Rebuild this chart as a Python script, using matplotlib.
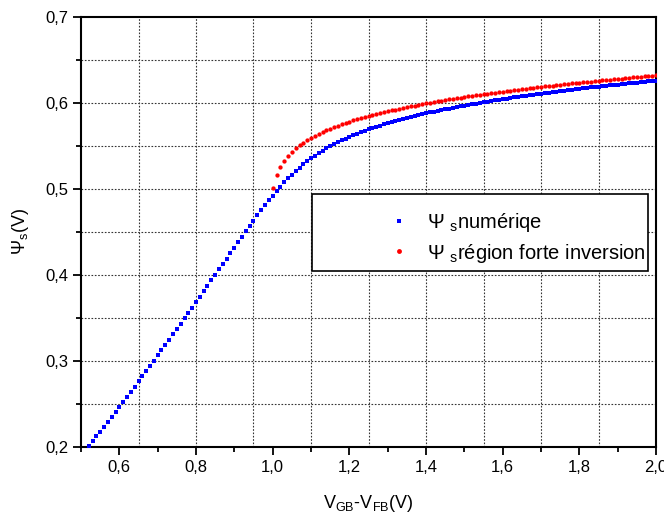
import numpy as np
import matplotlib
matplotlib.use("Agg")
import matplotlib.pyplot as plt
from matplotlib.ticker import MultipleLocator, FuncFormatter
from matplotlib.patches import Rectangle
from matplotlib.lines import Line2D

plt.rcParams['font.family'] = ['Liberation Sans', 'DejaVu Sans']
plt.rcParams['mathtext.fontset'] = 'custom'
plt.rcParams['mathtext.rm'] = 'Liberation Sans'
plt.rcParams['mathtext.it'] = 'Liberation Sans'

# ---- data ----
# V_GB - V_FB sampling: 0.52 .. 2.00 step 0.01 (numerical), 1.00 .. 2.00 step 0.01 (strong inversion)
v_num = np.round(np.linspace(0.52, 2.00, 149), 2)
psi_num = np.array([
    2011, 2067, 2124, 2180, 2237, 2294, 2352, 2410, 2468, 2526,
    2585, 2644, 2703, 2763, 2823, 2883, 2943, 3003, 3064, 3125,
    3186, 3248, 3310, 3371, 3433, 3496, 3558, 3621, 3684, 3747,
    3810, 3873, 3937, 4000, 4064, 4128, 4191, 4255, 4318, 4382,
    4445, 4508, 4570, 4631, 4692, 4752, 4810, 4867, 4922, 4976,
    5027, 5076, 5123, 5167, 5210, 5249, 5287, 5322, 5356,
    5387, 5417, 5445, 5472, 5497, 5521, 5543, 5565, 5586, 5605,
    5624, 5642, 5660, 5676, 5692, 5708, 5723, 5737, 5751, 5765,
    5778, 5790, 5803, 5815, 5826, 5837, 5848, 5859, 5870, 5880,
    5890, 5900, 5909, 5918, 5927, 5936, 5945, 5954, 5962, 5970,
    5978, 5986, 5994, 6002, 6009, 6017, 6024, 6031, 6038, 6045,
    6052, 6059, 6065, 6072, 6078, 6085, 6091, 6097, 6103, 6109,
    6115, 6121, 6127, 6132, 6138, 6143, 6149, 6154, 6160, 6165,
    6170, 6175, 6181, 6186, 6191, 6196, 6201, 6205, 6210, 6215,
    6220, 6224, 6229, 6233, 6238, 6242, 6247, 6251, 6256, 6260]) / 10000.0

v_si = np.round(np.linspace(1.00, 2.00, 101), 2)
psi_si = np.array([
    5007, 5159, 5256, 5327, 5384, 5432, 5473, 5508, 5540, 5569,
    5596, 5620, 5643, 5664, 5684, 5702, 5720, 5737, 5753, 5768,
    5783, 5797, 5810, 5824, 5836, 5848, 5860, 5871, 5882, 5893,
    5904, 5914, 5924, 5933, 5943, 5952, 5961, 5970, 5978, 5987,
    5995, 6003, 6011, 6019, 6026, 6034, 6041, 6048, 6055, 6062,
    6069, 6076, 6082, 6089, 6095, 6102, 6108, 6114, 6120, 6126,
    6132, 6138, 6144, 6149, 6155, 6160, 6166, 6171, 6177, 6182,
    6187, 6192, 6197, 6202, 6207, 6212, 6217, 6222, 6227, 6231,
    6236, 6241, 6245, 6250, 6254, 6259, 6263, 6267, 6272, 6276,
    6280, 6284, 6288, 6293, 6297, 6301, 6305, 6309, 6313, 6317,
    6320]) / 10000.0

labels = [r'$\Psi\ _{\mathrm{s}}$numériqe', r'$\Psi\ _{\mathrm{s}}$région forte inversion']
x_grid = [0.65, 0.8, 0.95, 1.1, 1.25, 1.4, 1.55, 1.7, 1.85]
y_grid = [0.25, 0.3, 0.35, 0.4, 0.45, 0.5, 0.55, 0.6, 0.65]

# ---- figure ----
fig = plt.figure(figsize=(6.64, 5.18), dpi=100)
ax = fig.add_axes([81/664, 1-447/518, (656-81)/664, (447-17)/518])
for xg in x_grid:
    ax.axvline(xg, color='#333333', lw=0.8, ls=(0, (1.5, 1.5)), zorder=0)
for yg in y_grid:
    ax.axhline(yg, color='#333333', lw=0.8, ls=(0, (1.5, 1.5)), zorder=0)

ax.plot(v_num, psi_num, 's', color='#0000FF', ms=2.7, mew=0, zorder=3)
ax.plot(v_si, psi_si, 'o', color='#FF0000', ms=3.1, mew=0, zorder=4)
ax.set_xlim(0.5, 2.0)
ax.set_ylim(0.2, 0.7)
ax.xaxis.set_major_locator(MultipleLocator(0.2))
ax.xaxis.set_minor_locator(MultipleLocator(0.1))
ax.yaxis.set_major_locator(MultipleLocator(0.1))
ax.yaxis.set_minor_locator(MultipleLocator(0.05))
ax.xaxis.set_major_formatter(FuncFormatter(
    lambda v, p: "" if abs(v - 0.5) < 1e-6 else ("%.1f" % v).replace('.', ',')))
ax.yaxis.set_major_formatter(FuncFormatter(lambda v, p: ("%.1f" % v).replace('.', ',')))
ax.tick_params(which='major', direction='out', length=6, width=1.3, labelsize=12, pad=3)
ax.tick_params(which='minor', direction='out', length=3.5, width=1.3)
for s in ax.spines.values():
    s.set_linewidth(1.5)

ax.set_xlabel(r'V$_{\mathrm{GB}}$-V$_{\mathrm{FB}}$(V)', fontsize=13, labelpad=13)
ax.set_ylabel(r'$\Psi_{\mathrm{s}}$(V)', fontsize=13, labelpad=10)

rect = Rectangle((0.402, 0.409), 0.584, 0.179, transform=ax.transAxes,
                 facecolor='white', edgecolor='black', lw=1.2, zorder=5)
ax.add_patch(rect)
handles = [Line2D([], [], ls='none', marker='s', color='#0000FF', ms=3.5, mew=0),
           Line2D([], [], ls='none', marker='o', color='#FF0000', ms=3.5, mew=0)]
leg = ax.legend(handles, labels, loc='center left', bbox_to_anchor=(0.535, 0.486),
                frameon=False, fontsize=14.5, handlelength=1.0, handletextpad=0.9,
                labelspacing=0.35, borderaxespad=0, borderpad=0)
leg.set_zorder(6)

fig.savefig("out.png")
